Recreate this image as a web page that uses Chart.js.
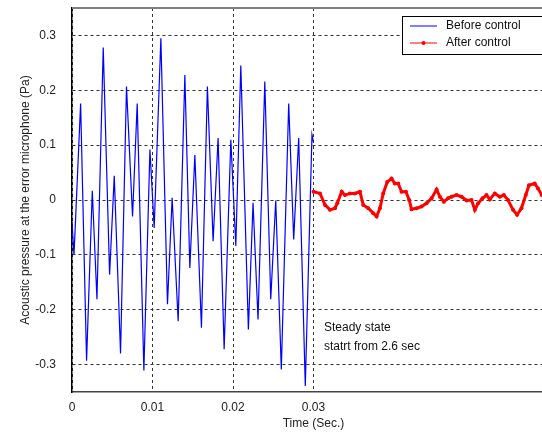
<!DOCTYPE html>
<html>
<head>
<meta charset="utf-8">
<script src="https://cdn.jsdelivr.net/npm/chart.js@4.4.1/dist/chart.umd.min.js"></script>
<style>
  html, body { margin:0; padding:0; background:#fff; overflow:hidden; }
  #wrap { width:560px; height:432px; }
</style>
</head>
<body>
<div id="wrap"><canvas id="chart" width="560" height="432"></canvas></div>
<script>
// before control: peaks / troughs (sec, Pa)
const timeBefore = [0, 0.00025, 0.00107, 0.00181, 0.00252, 0.00310, 0.00388, 0.00467, 0.00525, 0.00603,
  0.00677, 0.00752, 0.00810, 0.00893, 0.00968, 0.01021, 0.01104, 0.01186, 0.01244, 0.01319,
  0.01402, 0.01464, 0.01526, 0.01608, 0.01682, 0.01753, 0.01815, 0.01890, 0.01973, 0.02035,
  0.02097, 0.02191, 0.02249, 0.02311, 0.02395, 0.02469, 0.02531, 0.02600, 0.02692, 0.02754,
  0.02816, 0.02898, 0.02981, 0.03000];
const pressureBefore = [-0.04, -0.10, 0.176, -0.293, 0.017, -0.181, 0.278, -0.136, 0.044, -0.280,
  0.207, -0.030, 0.176, -0.311, 0.092, -0.051, 0.295, -0.190, 0.004, -0.221,
  0.228, -0.124, 0.082, -0.233, 0.207, -0.075, 0.113, -0.272, 0.110, -0.084,
  0.245, -0.236, -0.005, -0.218, 0.216, -0.181, -0.001, -0.309, 0.176, -0.072,
  0.113, -0.339, 0.119, 0.105];

// after control
const timeAfter = [0.03000, 0.03081, 0.03143, 0.03205, 0.03267, 0.03295, 0.03350, 0.03391, 0.03453, 0.03515,
  0.03577, 0.03618, 0.03680, 0.03742, 0.03784, 0.03825, 0.03866, 0.03916, 0.03970, 0.04011,
  0.04052, 0.04094, 0.04148, 0.04189, 0.04218, 0.04280, 0.04342, 0.04404, 0.04467, 0.04529,
  0.04570, 0.04619, 0.04672, 0.04715, 0.04777, 0.04839, 0.04901, 0.04963, 0.05004, 0.05045,
  0.05099, 0.05149, 0.05190, 0.05252, 0.05314, 0.05364, 0.05417, 0.05479, 0.05529, 0.05583,
  0.05637, 0.05677, 0.05748, 0.05789, 0.05835];
const pressureAfter = [0.015, 0.012, -0.009, -0.018, -0.015, -0.006, 0.015, 0.009, 0.012, 0.012,
  0.015, -0.009, -0.015, -0.024, -0.030, -0.015, 0.012, 0.033, 0.039, 0.030,
  0.030, 0.015, 0.015, 0.000, -0.017, -0.015, -0.012, -0.006, 0.003, 0.019,
  0.006, -0.003, 0.003, 0.006, 0.009, 0.006, -0.001, 0.000, -0.018, -0.006,
  0.003, 0.009, 0.001, 0.012, 0.006, 0.009, 0.000, -0.018, -0.027, -0.015,
  0.009, 0.027, 0.030, 0.021, 0.009];

const xTicks = [0, 0.01, 0.02, 0.03];
const yTicks = [-0.3, -0.2, -0.1, 0, 0.1, 0.2, 0.3];
const seriesNames = ["Before control", "After control"];
const noteLines = ["Steady state", "statrt from 2.6 sec"];

const FONT = { family: "'Liberation Sans', Arial, sans-serif", size: 12 };
const GRID = { color: "#333", lineWidth: 1, drawTicks: false };

// top border, annotation and boxed legend like the matlab figure
const extras = {
  id: "extras",
  afterDraw(chart) {
    const { ctx, chartArea: a, scales } = chart;
    ctx.save();
    ctx.strokeStyle = "#808080"; ctx.lineWidth = 2;
    ctx.beginPath(); ctx.moveTo(a.left, a.top); ctx.lineTo(a.right, a.top); ctx.lineTo(a.right, a.bottom); ctx.stroke();

    ctx.font = "12px " + FONT.family; ctx.fillStyle = "#111"; ctx.textBaseline = "middle";
    const nx = scales.x.getPixelForValue(0.0313), ny = scales.y.getPixelForValue(-0.233);
    noteLines.forEach((t, i) => ctx.fillText(t, nx, ny + i * 19));

    const lx = 402, ly = 16;
    ctx.fillStyle = "#fff"; ctx.fillRect(lx, ly, 150, 38);
    ctx.strokeStyle = "#000"; ctx.lineWidth = 1; ctx.strokeRect(lx + 0.5, ly + 0.5, 150, 38);
    chart.data.datasets.forEach((ds, i) => {
      const y = ly + 10 + i * 17;
      ctx.strokeStyle = ds.borderColor; ctx.lineWidth = 1;
      ctx.beginPath(); ctx.moveTo(410, y); ctx.lineTo(437, y); ctx.stroke();
      if (ds.pointRadius) { ctx.fillStyle = ds.borderColor; ctx.beginPath(); ctx.arc(423.5, y, 2, 0, Math.PI * 2); ctx.fill(); }
      ctx.fillStyle = "#111"; ctx.fillText(seriesNames[i], 446, y);
    });
    ctx.restore();
  }
};

new Chart(document.getElementById("chart"), {
  type: "line",
  data: {
    datasets: [
      { label: seriesNames[0], data: timeBefore.map((t, i) => ({ x: t, y: pressureBefore[i] })),
        borderColor: "#0000ff", borderWidth: 1.2, pointRadius: 0, tension: 0 },
      { label: seriesNames[1], data: timeAfter.map((t, i) => ({ x: t, y: pressureAfter[i] })),
        borderColor: "#ff0000", borderWidth: 3, pointRadius: 2, pointBackgroundColor: "#ff0000",
        pointBorderWidth: 0, tension: 0 }
    ]
  },
  options: {
    responsive: false, animation: false,
    layout: { padding: { top: 8, right: 5, left: 0, bottom: 0 } },
    plugins: { legend: { display: false }, tooltip: { enabled: false } },
    scales: {
      x: {
        type: "linear", min: 0, max: 0.06,
        afterBuildTicks: s => { s.ticks = xTicks.map(v => ({ value: v })); },
        afterFit: s => { s.height = 40; s.paddingLeft = 0; s.paddingRight = 0; },
        ticks: { color: "#222", font: FONT, padding: 8, maxRotation: 0, autoSkip: false, callback: v => String(v) },
        grid: GRID,
        border: { color: "#444", width: 1.5, dash: [3, 3] },
        title: { display: true, text: "Time (Sec.)", color: "#222", font: FONT, padding: { top: 0, bottom: 1 } }
      },
      y: {
        min: -0.35, max: 0.35,
        afterBuildTicks: s => { s.ticks = yTicks.map(v => ({ value: v })); },
        afterFit: s => { s.width = 72; s.paddingTop = 0; s.paddingBottom = 0; },
        ticks: { color: "#222", font: FONT, padding: 16, autoSkip: false, callback: v => String(v) },
        grid: GRID,
        border: { color: "#000", width: 1.5, dash: [3, 3] },
        title: { display: true, text: "Acoustic pressure at the error microphone (Pa)", color: "#222", font: FONT, padding: { top: 18, bottom: 0 } }
      }
    }
  },
  plugins: [extras]
});
</script>
</body>
</html>
